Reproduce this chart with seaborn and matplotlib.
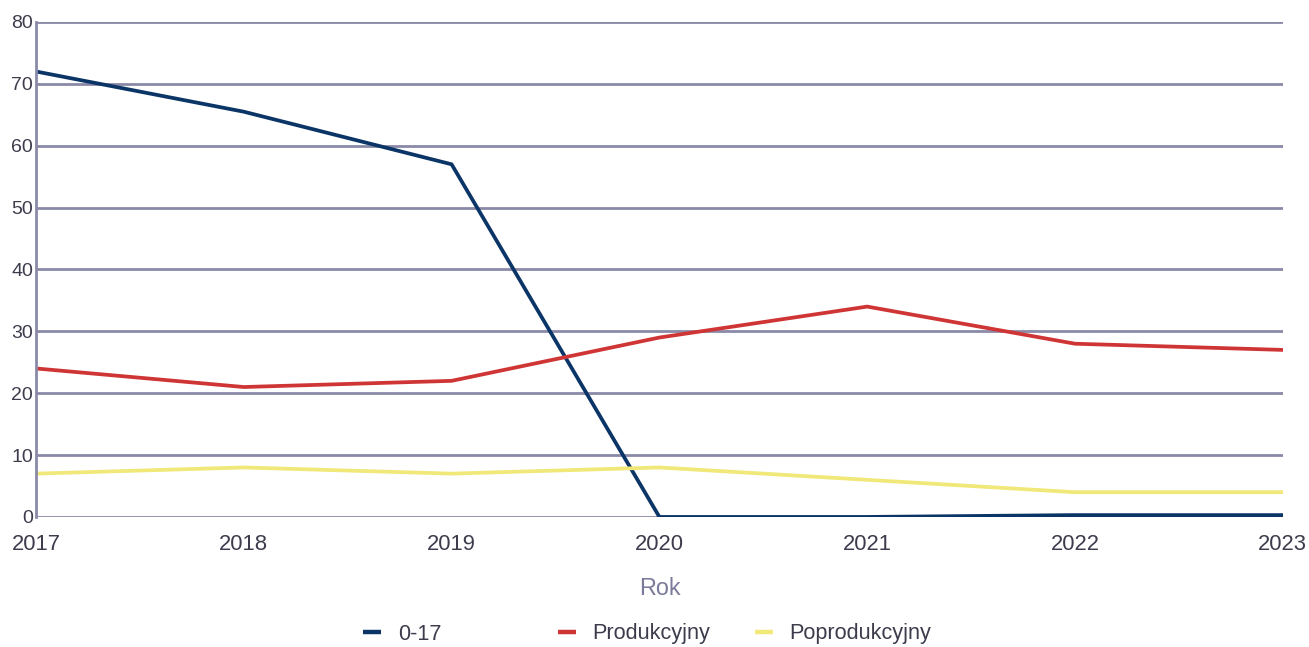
import pandas as pd
import matplotlib
matplotlib.use('Agg')
import matplotlib.pyplot as plt
from matplotlib.lines import Line2D
import seaborn as sns

# values
years = [2017, 2018, 2019, 2020, 2021, 2022, 2023]
grupa_0_17 = [72, 65.5, 57, 0, 0, 0.3, 0.3]
produkcyjny = [24, 21, 22, 29, 34, 28, 27]
poprodukcyjny = [7, 8, 7, 8, 6, 4, 4]
series_names = ['0-17', 'Produkcyjny', 'Poprodukcyjny']
colors = ['#0b3566', '#d03535', '#f0e878']
y_ticks = [0, 10, 20, 30, 40, 50, 60, 70, 80]

df = pd.DataFrame({
    'Rok': years * 3,
    'value': grupa_0_17 + produkcyjny + poprodukcyjny,
    'grupa': [n for n in series_names for _ in years],
})

sns.set_style('white')
plt.rcParams['font.family'] = ['Liberation Sans', 'DejaVu Sans']

grid_col = '#8a8aa8'
text_col = '#3c3c4c'

fig = plt.figure(figsize=(13.09, 6.47), dpi=100)
ax = fig.add_axes([0.0275, 0.201, 0.9525, 0.765])

sns.lineplot(data=df, x='Rok', y='value', hue='grupa', hue_order=series_names,
             palette=colors, linewidth=2.7, ax=ax, legend=False)

ax.set_xlim(2017, 2023)
ax.set_ylim(0, 80)
ax.set_yticks(y_ticks)
ax.set_xticks(years)
ax.yaxis.grid(True, color=grid_col, linewidth=2.0)
ax.set_axisbelow(True)
for s in ['top', 'right', 'bottom']:
    ax.spines[s].set_visible(False)
ax.spines['left'].set_color(grid_col)
ax.spines['left'].set_linewidth(2.0)
ax.tick_params(axis='both', length=0, colors=text_col)
ax.tick_params(axis='y', labelsize=14, pad=2)
ax.tick_params(axis='x', labelsize=15.8, pad=12)
ax.set_ylabel('')
ax.set_xlabel('Rok', fontsize=16.8, color='#7a7a9a', labelpad=16)

# legend: three fixed-width entries below the axis title
leg_x = [363, 558, 755]
for name, col, x in zip(series_names, colors, leg_x):
    h = Line2D([], [], color=col, linewidth=3.2, solid_capstyle='butt')
    leg = fig.legend([h], [name], loc='center left',
                     bbox_to_anchor=(x / 1309, 1 - 634 / 647),
                     frameon=False, fontsize=15.6, handlelength=0.85,
                     handletextpad=0.75, borderpad=0, borderaxespad=0)
    for t in leg.get_texts():
        t.set_color(text_col)

fig.savefig('out.png', dpi=100)
